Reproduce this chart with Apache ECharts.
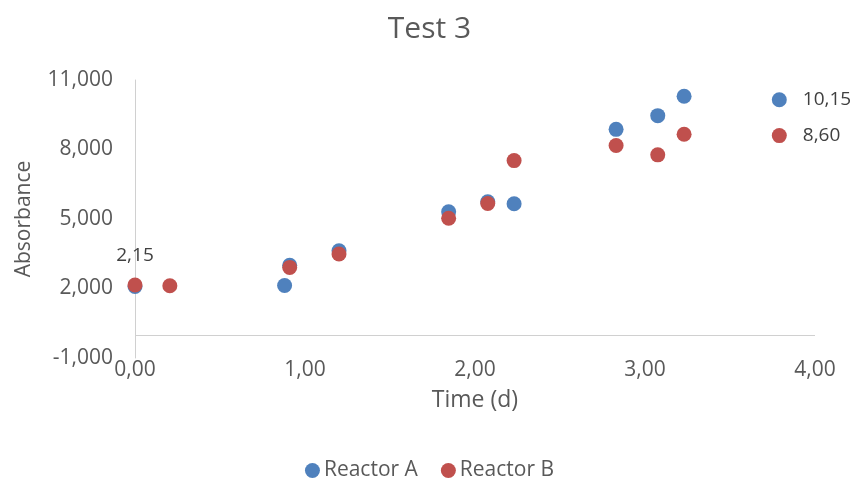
<!DOCTYPE html>
<html>
<head>
<meta charset="utf-8">
<script src="https://cdn.jsdelivr.net/npm/echarts@6/dist/echarts.min.js"></script>
<style>html,body{margin:0;padding:0;background:#fff}#c{width:859px;height:482px}</style>
</head>
<body>
<div id="c"></div>
<script>
var seriesNames = ['Reactor A', 'Reactor B'];
var timeA = [0.00, 0.88, 0.91, 1.20, 1.845, 2.075, 2.23, 2.83, 3.075, 3.23, 3.79];
var absA  = [2.09, 2.13, 3.00, 3.63, 5.31, 5.74, 5.66, 8.87, 9.46, 10.30, 10.15];
var timeB = [0.00, 0.205, 0.91, 1.20, 1.845, 2.075, 2.23, 2.83, 3.075, 3.23, 3.79];
var absB  = [2.15, 2.12, 2.91, 3.49, 5.03, 5.67, 7.52, 8.17, 7.77, 8.66, 8.60];
var labeledA = [10];      // indices of points with a value label
var labeledB = [0, 10];
var yTicks = [-1, 2, 5, 8, 11];
var xTicks = [0, 1, 2, 3, 4];

var FONT = "'Open Sans', 'Noto Sans', sans-serif";
function comma(v, d) { return v.toFixed(d).replace('.', ','); }

function build(times, vals, labeled) {
  return times.map(function (t, i) {
    var item = { value: [t, vals[i]] };
    if (labeled.indexOf(i) >= 0) {
      var p = (i === 0) ? 'top' : 'right';
      item.label = {
        show: true, position: p, distance: p === 'top' ? 12 : 16,
        formatter: function (prm) { return comma(prm.value[1], 2); },
        color: '#404040', fontSize: 19, fontFamily: FONT
      };
    }
    return item;
  });
}

var chart = echarts.init(document.getElementById('c'), null, { renderer: 'canvas' });
chart.setOption({
  animation: false,
  backgroundColor: '#ffffff',
  title: {
    text: 'Test 3', left: 'center', top: 9,
    textStyle: { color: '#595959', fontSize: 30, fontWeight: 'normal', fontFamily: FONT }
  },
  legend: {
    data: seriesNames, bottom: 1, left: 'center', padding: 0, icon: 'circle',
    itemWidth: 15, itemHeight: 15, itemGap: 23,
    textStyle: { color: '#595959', fontSize: 21, fontFamily: FONT, padding: [0, 0, 0, -1] }
  },
  grid: { left: 135, right: 44, top: 80, bottom: 124, containLabel: false },
  xAxis: {
    type: 'value', min: xTicks[0], max: xTicks[xTicks.length - 1], interval: 1,
    name: 'Time (d)', nameLocation: 'middle', nameGap: 31,
    nameTextStyle: { color: '#595959', fontSize: 23, fontFamily: FONT },
    axisLine: { show: false, onZero: false },
    axisTick: { show: false },
    splitLine: { show: false },
    axisLabel: { color: '#595959', fontSize: 21, fontFamily: FONT, margin: 2,
      formatter: function (v) { return comma(v, 2); } }
  },
  yAxis: {
    type: 'value', min: yTicks[0], max: yTicks[yTicks.length - 1], interval: 3,
    name: 'Absorbance', nameLocation: 'middle', nameGap: 100, nameRotate: 90,
    nameTextStyle: { color: '#595959', fontSize: 21, fontFamily: FONT },
    axisLine: { show: true, lineStyle: { color: '#d0d0d0', width: 1 } },
    axisTick: { show: false },
    splitLine: { show: false },
    axisLabel: { color: '#595959', fontSize: 21, fontFamily: FONT, margin: 22,
      formatter: function (v) { return comma(v, 3); } }
  },
  series: [
    {
      name: seriesNames[0], type: 'scatter', symbolSize: 15,
      itemStyle: { color: '#4F81BD', opacity: 1 },
      data: build(timeA, absA, labeledA),
      markLine: {
        silent: true, symbol: ['none', 'none'], label: { show: false },
        lineStyle: { color: '#d0d0d0', width: 1, type: 'solid' },
        data: [{ yAxis: 0 }]
      },
      z: 2
    },
    {
      name: seriesNames[1], type: 'scatter', symbolSize: 15,
      itemStyle: { color: '#C0504D', opacity: 1 },
      data: build(timeB, absB, labeledB),
      z: 3
    }
  ]
});
</script>
</body>
</html>
